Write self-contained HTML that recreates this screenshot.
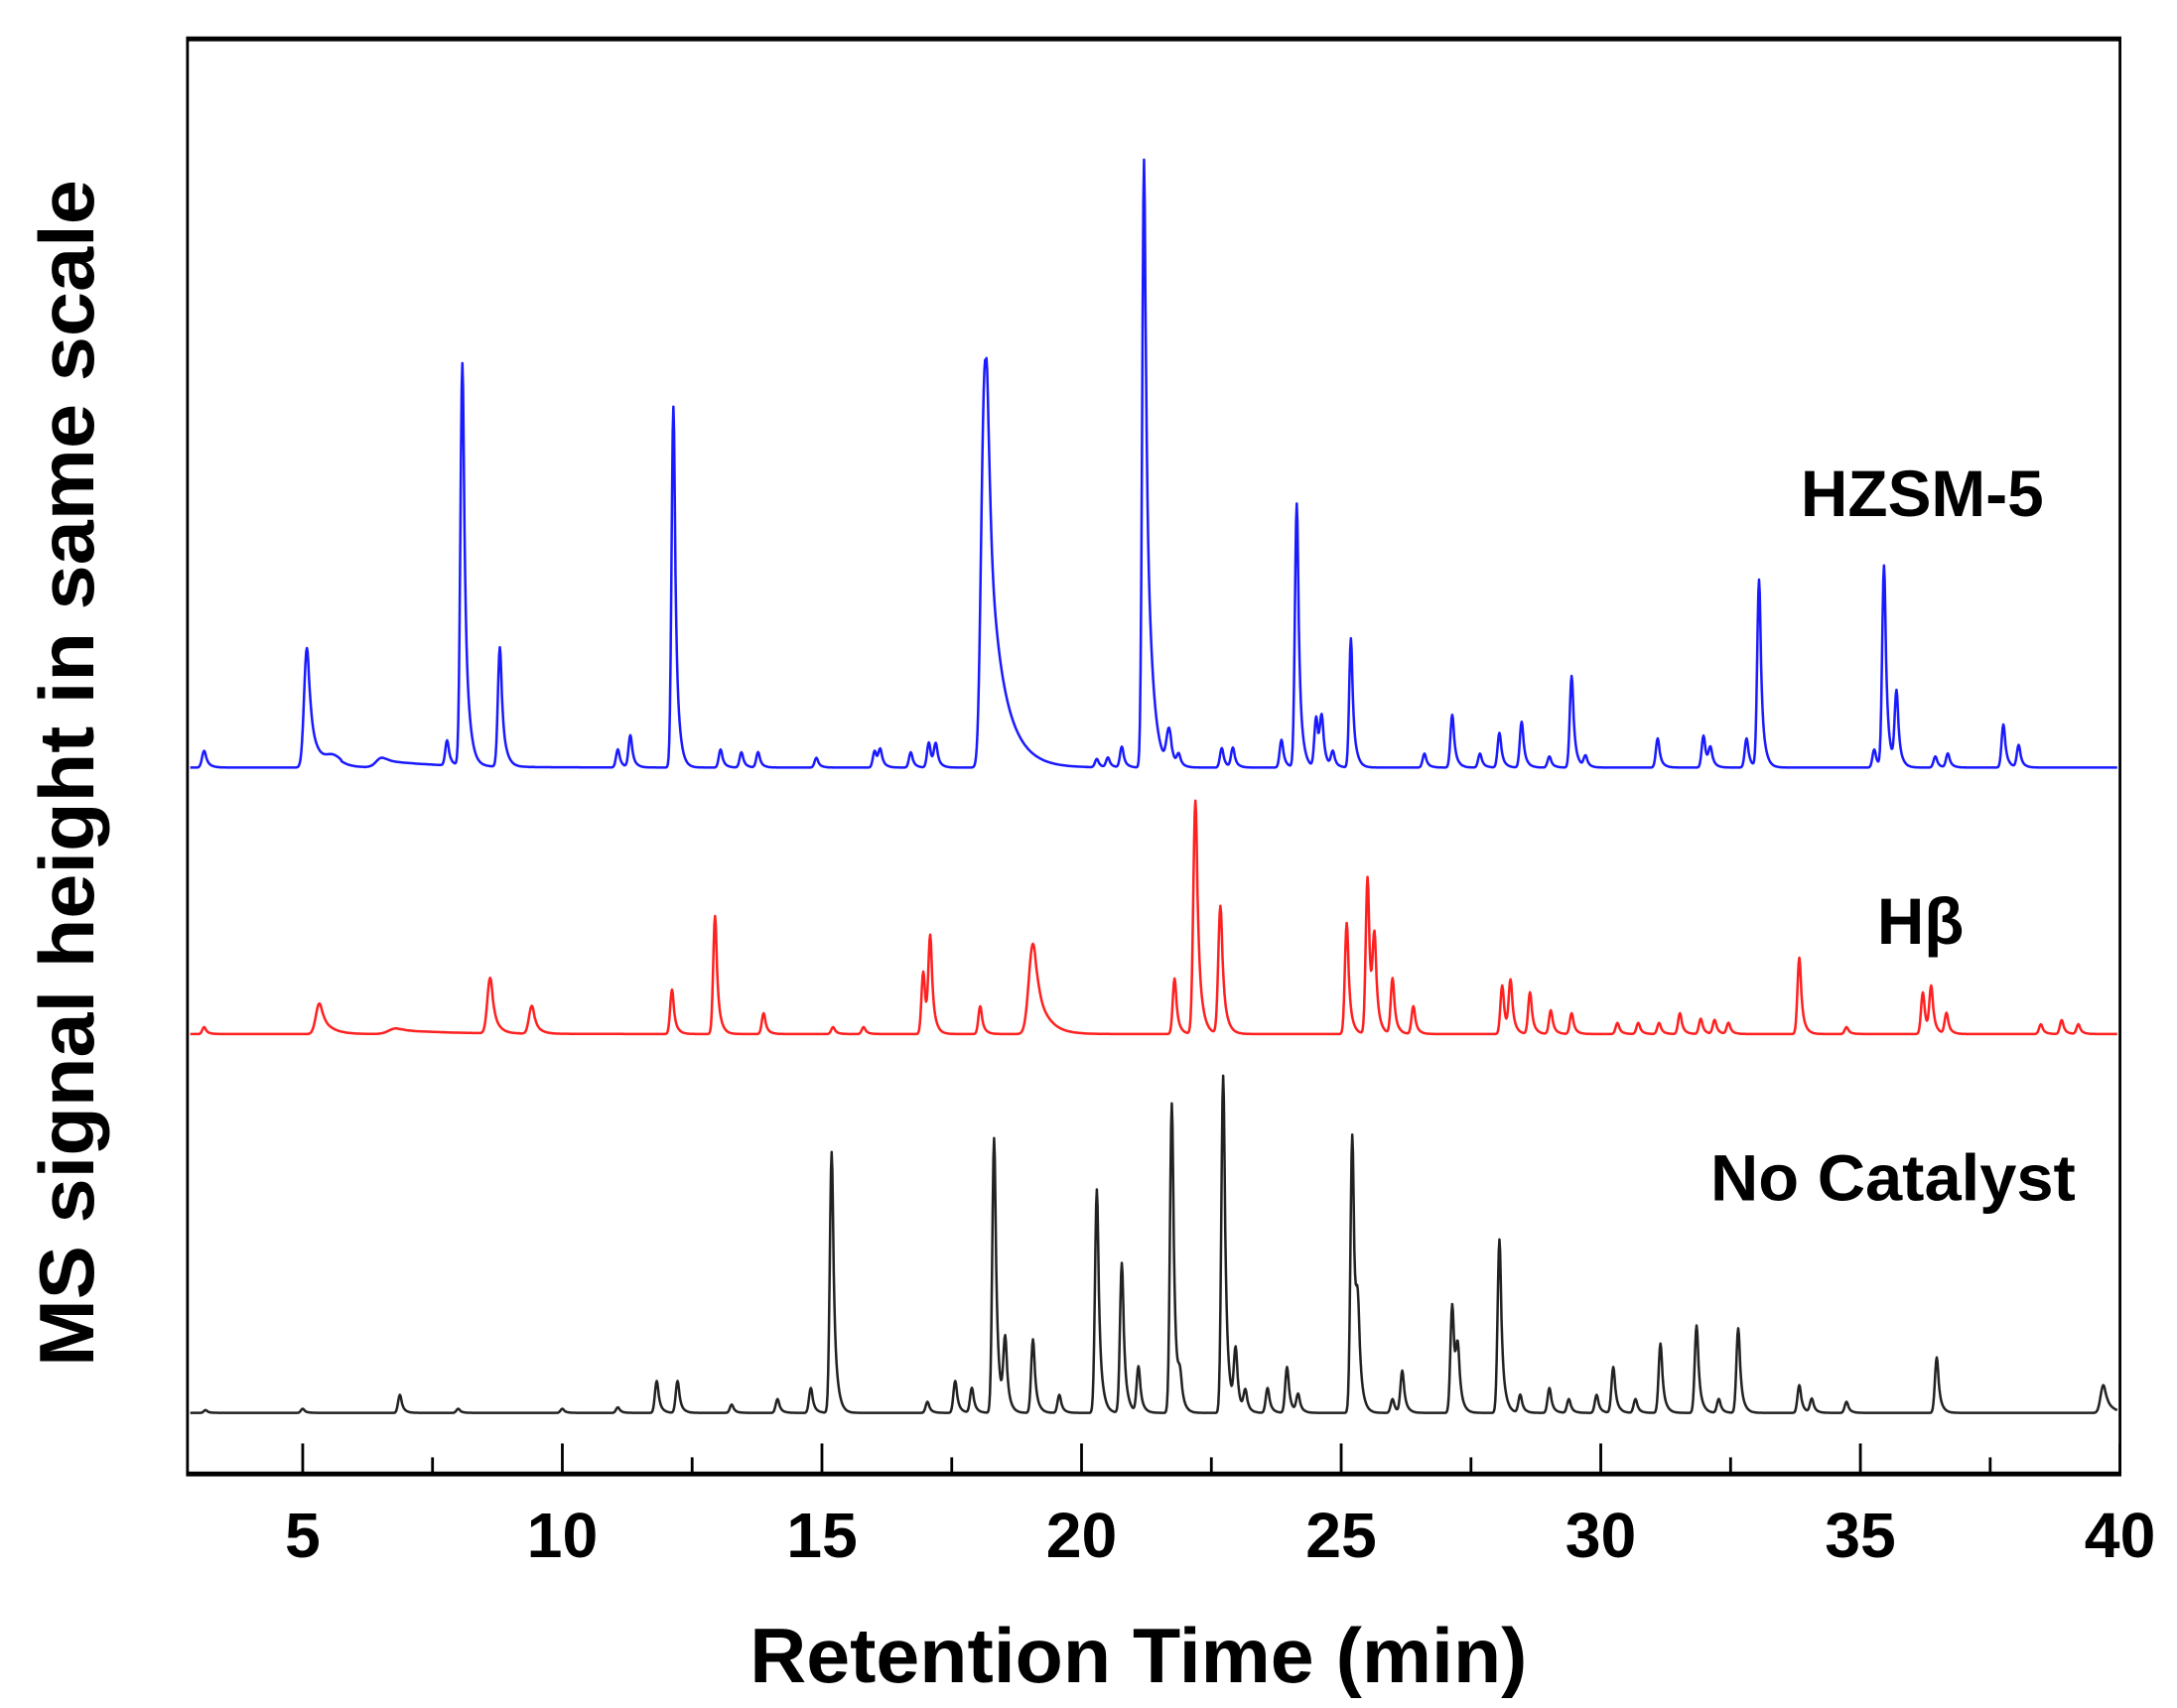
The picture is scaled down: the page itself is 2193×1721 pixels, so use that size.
<!DOCTYPE html>
<html><head><meta charset="utf-8"><style>
html,body{margin:0;padding:0;background:#fff;}
svg{display:block}
text{font-family:"Liberation Sans",Arial,sans-serif;font-weight:bold;fill:#000}
</style></head><body>
<svg id="s" width="2193" height="1721" viewBox="0 0 1568 1230.6" xmlns="http://www.w3.org/2000/svg">
<rect x="0" y="0" width="1568" height="1230.6" fill="#fff"/>
<g id="series"></g>
<rect x="135" y="27.5" width="1392" height="1034.5" fill="none" stroke="#000" stroke-width="2"/>
<line x1="134" y1="28" x2="1528" y2="28" stroke="#000" stroke-width="3.5"/>
<line x1="134" y1="1062" x2="1528" y2="1062" stroke="#000" stroke-width="3.5"/>
<g id="ticks" stroke="#000" stroke-width="2"></g>
<g font-size="46" text-anchor="middle">
<text x="218" y="1122">5</text><text x="405" y="1122">10</text><text x="592" y="1122">15</text>
<text x="779" y="1122">20</text><text x="966" y="1122">25</text><text x="1153" y="1122">30</text>
<text x="1340" y="1122">35</text><text x="1527" y="1122">40</text>
</g>
<text x="820" y="1212" font-size="56" text-anchor="middle" textLength="560" lengthAdjust="spacingAndGlyphs">Retention Time (min)</text>
<text transform="translate(67,557) rotate(-90)" font-size="56" text-anchor="middle" textLength="855" lengthAdjust="spacingAndGlyphs">MS signal height in same scale</text>
<text x="1297" y="372" font-size="47" textLength="175" lengthAdjust="spacingAndGlyphs">HZSM-5</text>
<text x="1352" y="680" font-size="47">Hβ</text>
<text x="1232" y="865" font-size="47" textLength="263" lengthAdjust="spacingAndGlyphs">No Catalyst</text>
</svg>
<script>
var NS="http://www.w3.org/2000/svg";
var t=document.getElementById('ticks');
for(var m=5;m<=40;m+=2.5){var x=218+(m-5)*37.4;var l=document.createElementNS(NS,'line');
var maj=(m%5==0);l.setAttribute('x1',x);l.setAttribute('x2',x);l.setAttribute('y1',1062);l.setAttribute('y2',maj?1040:1050);t.appendChild(l);}
function mk(base,peaks,color){
  var d='';
  for(var x=137;x<=1525;x+=0.5){
    var h=0;
    for(var i=0;i<peaks.length;i++){
      var p=peaks[i],px=p[0],a=base-p[1],s=p[2]||1.3,tau=p[3]||2.5;
      var dx=x-px,v;
      if(dx<0) v=Math.exp(-dx*dx/(2*s*s));
      else v=Math.exp(-dx/tau)*0.75+0.25*Math.exp(-dx*dx/(2*s*s));
      if(dx>=0&&dx<s) v=Math.max(v,Math.exp(-dx*dx/(2*s*s)));
      h+=a*v;
    }
    d+=(d?'L':'M')+x.toFixed(1)+' '+(base-h).toFixed(1);
  }
  var p=document.createElementNS(NS,'path');p.setAttribute('d',d);p.setAttribute('fill','none');
  p.setAttribute('stroke',color);p.setAttribute('stroke-width','1.8');p.setAttribute('stroke-linejoin','round');
  document.getElementById('series').appendChild(p);
}
mk(553,[[147,541,1.5,3],[221,467,2,5],[240,545,6,8],[275,546,4,40],[322,535],[333,263,1.4,3],[360,467,1.4,3],[445,540],[454,530],[485,293,1.3,2.5],[519,540],[534,542],[546,542],[588,546],[630,541],[634,541],[656,542],[669,535],[674,537],[708,372,2,4],[711,345,2,12],[790,547],[798,546],[808,538],[824,115,1.3,4],[842,528,1.8,3],[849,545],[880,539],[888,539],[923,533],[934,363,1.3,2.5],[948,517],[952,520],[960,542],[973,460,1.2,2.5],[1026,543],[1046,515],[1066,543],[1080,528],[1096,520],[1116,545],[1132,487],[1142,545],[1194,532],[1227,530],[1232,540],[1258,532],[1267,418],[1350,540],[1357,408],[1366,500],[1394,545],[1403,543],[1443,522],[1454,537]],'#1a1aff');
mk(745,[[147,740],[230,723,2.5,7],[285,741,5,40],[353,705,2,4],[383,725,2,4],[484,713],[515,660],[550,730],[600,740],[622,740],[665,700],[670,678],[706,725],[744,680,3,8],[846,705],[861,577,1.5,3],[879,653,1.5,3],[970,665],[985,632],[990,682],[1003,705],[1018,725],[1082,710],[1088,708],[1102,715],[1117,728],[1132,730],[1165,737],[1180,737],[1195,737],[1210,730],[1225,734],[1235,735],[1245,737],[1296,690],[1330,740],[1385,715],[1391,712],[1402,730],[1470,738],[1485,735],[1497,738]],'#ff2020');
mk(1018,[[148,1016],[218,1015],[288,1005],[330,1015],[405,1015],[445,1014],[473,995],[488,995],[527,1012],[560,1008],[584,1000],[599,830,1.3,2.5],[668,1010],[688,995],[700,1000],[716,820],[724,968],[744,965],[763,1005],[790,857],[808,910],[820,985],[844,795],[850,1000],[881,775],[890,975],[897,1003],[913,1000],[927,985],[935,1005],[974,818],[978,960],[1003,1008],[1010,988],[1046,940],[1050,978],[1080,893],[1095,1005],[1116,1000],[1130,1008],[1150,1005],[1162,985],[1178,1008],[1196,968],[1222,955],[1238,1008],[1252,957],[1296,998],[1305,1008],[1330,1010],[1395,978],[1515,998,2,5]],'#222');
</script>
</body></html>
